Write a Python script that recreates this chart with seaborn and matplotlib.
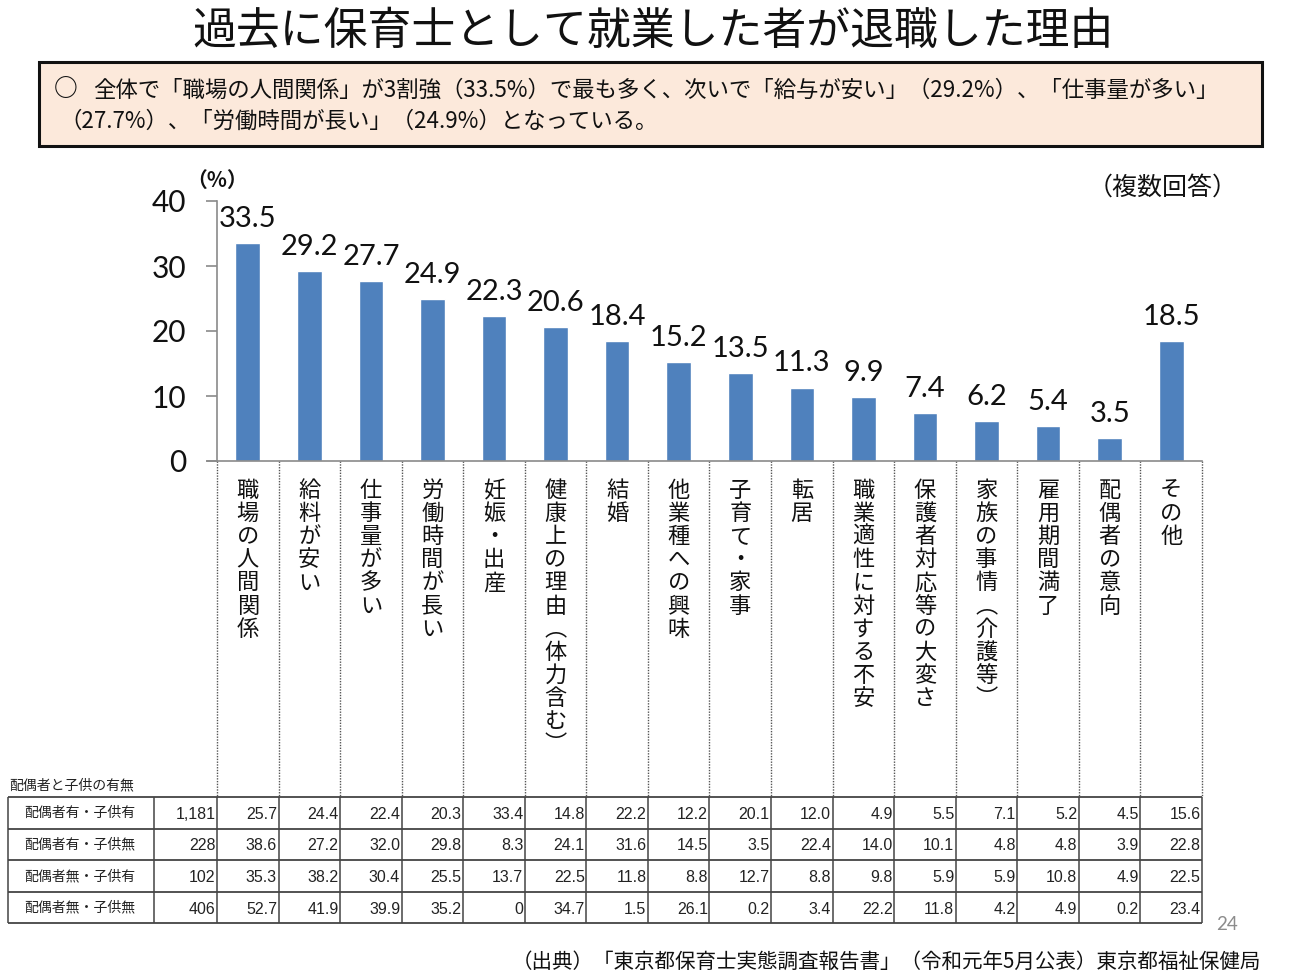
import matplotlib
matplotlib.use("Agg")
import matplotlib.pyplot as plt
import pandas as pd
import seaborn as sns
from matplotlib.patches import Rectangle

# ====================== DATA ======================
categories = ["職場の人間関係", "給料が安い", "仕事量が多い", "労働時間が長い", "妊娠・出産",
              "健康上の理由︵体力含む︶", "結婚", "他業種への興味", "子育て・家事", "転居",
              "職業適性に対する不安", "保護者対応等の大変さ", "家族の事情︵介護等︶",
              "雇用期間満了", "配偶者の意向", "その他"]
values = [33.5, 29.2, 27.7, 24.9, 22.3, 20.6, 18.4, 15.2, 13.5, 11.3, 9.9, 7.4, 6.2, 5.4, 3.5, 18.5]
y_ticks = [0, 10, 20, 30, 40]

row_labels = ["配偶者有・子供有", "配偶者有・子供無", "配偶者無・子供有", "配偶者無・子供無"]
row_counts = ["1,181", "228", "102", "406"]
row_1 = ["25.7", "24.4", "22.4", "20.3", "33.4", "14.8", "22.2", "12.2", "20.1", "12.0", "4.9", "5.5", "7.1", "5.2", "4.5", "15.6"]
row_2 = ["38.6", "27.2", "32.0", "29.8", "8.3", "24.1", "31.6", "14.5", "3.5", "22.4", "14.0", "10.1", "4.8", "4.8", "3.9", "22.8"]
row_3 = ["35.3", "38.2", "30.4", "25.5", "13.7", "22.5", "11.8", "8.8", "12.7", "8.8", "9.8", "5.9", "5.9", "10.8", "4.9", "22.5"]
row_4 = ["52.7", "41.9", "39.9", "35.2", "0", "34.7", "1.5", "26.1", "0.2", "3.4", "22.2", "11.8", "4.2", "4.9", "0.2", "23.4"]
rows = [row_1, row_2, row_3, row_4]

title = "過去に保育士として就業した者が退職した理由"
summary_1 = "全体で「職場の人間関係」が3割強（33.5%）で最も多く、次いで「給与が安い」（29.2%）、「仕事量が多い」"
summary_2 = "（27.7%）、「労働時間が長い」（24.9%）となっている。"
source = "（出典）「東京都保育士実態調査報告書」（令和元年5月公表）東京都福祉保健局"

W, H = 1299, 977
JP = ["Noto Sans CJK JP", "DejaVu Sans"]
NUM = ["Lato", "DejaVu Sans"]
CELL = ["Liberation Sans", "DejaVu Sans"]

sns.set_style("white")
plt.rcParams["font.family"] = JP

fig = plt.figure(figsize=(W / 100, H / 100), dpi=100)

# overlay in pixel coords for the slide furniture
bg = fig.add_axes([0, 0, 1, 1])
bg.set_xlim(0, W)
bg.set_ylim(H, 0)
bg.axis("off")

# ====================== BAR CHART ======================
ax = fig.add_axes([217 / W, (H - 461) / H, 985 / W, 260 / H])
df = pd.DataFrame({"category": categories, "value": values})
sns.barplot(data=df, x="category", y="value", color="#4f81bd", saturation=1, width=0.4, ax=ax)
ax.set_facecolor("none")
ax.set_ylim(0, 40)
ax.set_xlim(-0.5, 15.5)
ax.set_xlabel("")
ax.set_ylabel("")
ax.set_yticks(y_ticks)
ax.set_yticklabels([str(t) for t in y_ticks], family=NUM, fontsize=21.5, color="#111111")
ax.tick_params(axis="y", length=8, width=1.2, color="#8a8a8a", left=True, pad=14)
ax.tick_params(axis="x", length=0, pad=13)
ax.set_xticks(range(len(categories)))
ax.set_xticklabels(["\n".join(c) for c in categories], fontsize=16, color="#111111",
                   va="top", ha="center", linespacing=1.005)
for s in ["top", "right"]:
    ax.spines[s].set_visible(False)
for s in ["left", "bottom"]:
    ax.spines[s].set_color("#8a8a8a")
    ax.spines[s].set_linewidth(1.2)
ax.plot([-0.5 - 10 / 61.56, -0.5], [0, 0], color="#8a8a8a", lw=1.2, clip_on=False)

labels = ax.bar_label(ax.containers[0], fmt="%.1f", padding=8, fontsize=21, family=NUM, color="#111111")

# ====================== TEXT BLOCKS ======================
bg.text(653, 31, title, fontsize=31.6, ha="center", va="center", color="#111111")
bg.add_patch(Rectangle((39, 62), 1223, 84, facecolor="#fce9db", edgecolor="#111111", lw=2.2))
bg.text(66, 89, "○", fontsize=17, fontweight="bold", ha="center", va="center", color="#111111")
bg.text(93, 90, summary_1, fontsize=16.15, ha="left", va="center", color="#111111")
bg.text(59, 121, summary_2, fontsize=16.15, ha="left", va="center", color="#111111")
bg.text(217, 180, "（%）", fontsize=15, fontweight="bold", ha="center", va="center", color="#111111")
bg.text(1163, 188, "（複数回答）", fontsize=18, ha="center", va="center", color="#111111")
bg.text(9, 785, "配偶者と子供の有無", fontsize=10, ha="left", va="center", color="#222222")
bg.text(1261, 962, source, fontsize=14.8, ha="right", va="center", color="#111111")
bg.text(1227, 925, "24", fontsize=13.5, family=NUM, ha="center", va="center", color="#8c8c8c")

# ====================== TABLE ======================
col_edges = [7.6, 153.6] + [217 + 61.56 * i for i in range(17)]
row_edges = [797, 828.5, 860, 892, 923]

# dotted category separators between the axis and the table
bg.vlines(col_edges[2:], 461, 797, color="#555555", lw=1, linestyles=(0, (1, 1)))
bg.vlines(col_edges, 797, 923, color="#444444", lw=1.1)
bg.hlines(row_edges, col_edges[0], col_edges[-1], color="#444444", lw=1.3)

for r, row in enumerate(rows):
    yc = (row_edges[r] + row_edges[r + 1]) / 2
    bg.text(80, yc, row_labels[r], fontsize=10, ha="center", va="center", color="#222222")
    cells = [row_counts[r]] + row
    for c, cell in enumerate(cells):
        bg.text(col_edges[c + 2] - 1.5, yc + 1.5, cell, fontsize=11.5, family=CELL,
                ha="right", va="center", color="#222222")

fig.savefig("out.png", dpi=100)
